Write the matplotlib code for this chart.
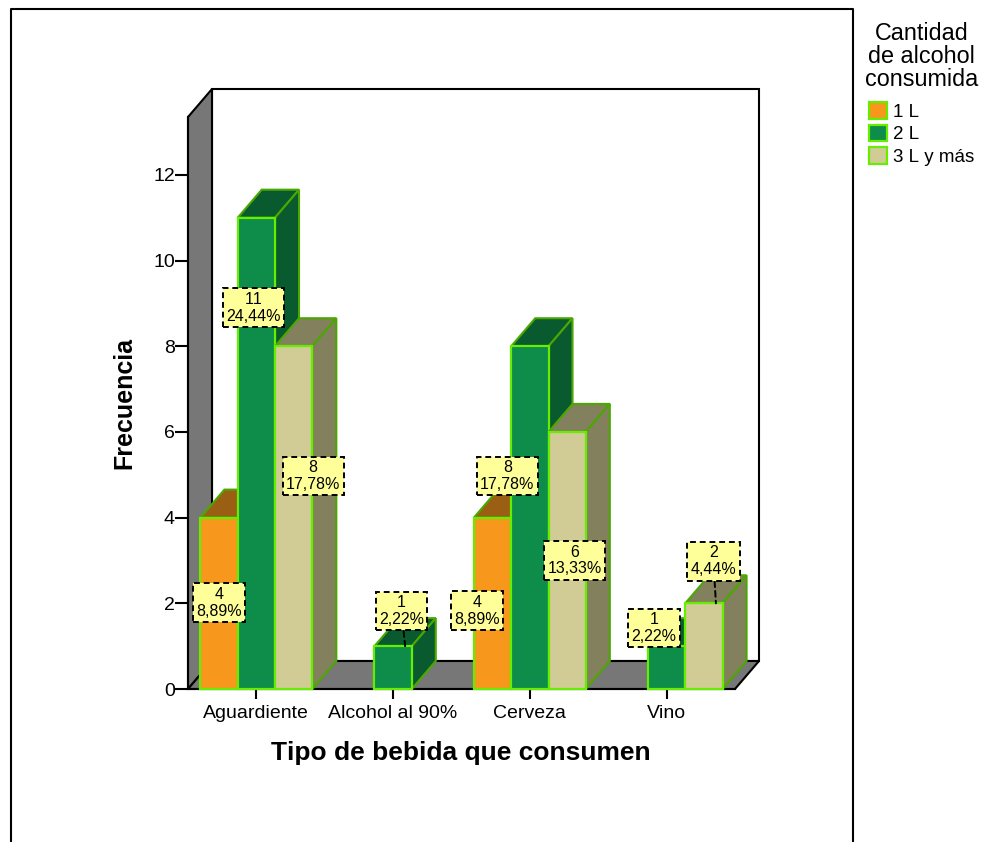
#! /usr/bin/env python3
import matplotlib
matplotlib.use('Agg')
import matplotlib.pyplot as plt
from matplotlib.lines import Line2D
from matplotlib.patches import Patch, Polygon
import numpy as np

plt.rcParams['font.family'] = ['Liberation Sans', 'DejaVu Sans']
plt.rcParams['text.kerning_factor'] = 6

categories = ['Aguardiente', 'Alcohol al 90%', 'Cerveza', 'Vino']
litros_1 = [4, 0, 4, 0]
litros_2 = [11, 1, 8, 1]
litros_3 = [8, 0, 6, 2]
series_names = ['1 L', '2 L', '3 L y más']
total = 45
y_ticks = [0, 2, 4, 6, 8, 10, 12]

w = 981
h = 842

# plot box in pixels, measured from the top left
left = 188
right = 735
bottom = 689
top = 117
y_max = 13.35
depth_x = 24
depth_y = 28

front = ['#F7981D', '#0E8C4A', '#D1CB96']
shade = ['#9B5F13', '#0A5A2F', '#83805D']
edge = '#66EE00'
edge_dark = '#4BA800'
wall = '#777777'

# box centre relative to the bar top, in pixels (x right, y up)
label_offsets = {
    (0, 0): (-12, -85), (0, 1): (-15, -90), (0, 2): (7.5, -130),
    (1, 1): (-3.5, 35),
    (2, 0): (-27.5, -93), (2, 1): (-34.5, -130), (2, 2): (-4.5, -128.5),
    (3, 1): (-24.5, 18), (3, 2): (-2.5, 42),
}
leaders = [(1, 1), (3, 2)]

fig = plt.figure(figsize=(w / 100, h / 100), dpi=100, facecolor='white')
ax = fig.add_axes([left / w, 1 - bottom / h, (right - left) / w, (bottom - top) / h])
ax.set_xlim(0, len(categories))
ax.set_ylim(0, y_max)
ax.patch.set_visible(False)

dx = depth_x / (right - left) * len(categories)
dy = depth_y / (bottom - top) * y_max
bar_w = 37.3 / (right - left) * len(categories)
x_max = len(categories)


def add_poly(pts, fc, ec, lw, z):
    ax.add_patch(Polygon(pts, closed=True, facecolor=fc, edgecolor=ec, linewidth=lw,
                         zorder=z, clip_on=False, joinstyle='miter'))


# back wall, side wall and floor
add_poly([(dx, dy), (x_max + dx, dy), (x_max + dx, y_max + dy), (dx, y_max + dy)], 'white', 'black', 1.5, 1)
add_poly([(0, 0), (dx, dy), (dx, y_max + dy), (0, y_max)], wall, 'black', 1.5, 1.1)
add_poly([(0, 0), (x_max, 0), (x_max + dx, dy), (dx, dy)], wall, 'black', 1.5, 1.2)

z = 3
x = np.arange(len(categories)) + 0.5
for s, values in enumerate([litros_1, litros_2, litros_3]):
    for c, v in enumerate(values):
        if v == 0:
            continue
        x0 = x[c] + (s - 1.5) * bar_w
        x1 = x0 + bar_w
        add_poly([(x0, v), (x1, v), (x1 + dx, v + dy), (x0 + dx, v + dy)], shade[s], edge_dark, 1.5, z)
        add_poly([(x1, 0), (x1 + dx, dy), (x1 + dx, v + dy), (x1, v)], shade[s], edge_dark, 1.5, z)
        ax.bar(x0 + bar_w / 2, v, width=bar_w, color=front[s], edgecolor=edge, linewidth=1.6,
               zorder=z + 0.5, clip_on=False)
        z += 1

# value boxes go on top of every bar
for s, values in enumerate([litros_1, litros_2, litros_3]):
    for c, v in enumerate(values):
        if v == 0:
            continue
        pct = f'{v / total * 100:.2f}%'.replace('.', ',')
        props = None
        if (c, s) in leaders:
            props = dict(arrowstyle='-', linestyle=(0, (3, 2)), linewidth=1.4, color='black',
                         shrinkA=0, shrinkB=0)
        ax.annotate(f'{v}\n{pct}', xy=(x[c] + (s - 1) * bar_w + dx / 2, v),
                    xytext=label_offsets[(c, s)], textcoords='offset pixels',
                    ha='center', va='center', fontsize=11.5, linespacing=1.15, zorder=50,
                    annotation_clip=False, arrowprops=props,
                    bbox=dict(boxstyle='square,pad=0.21', facecolor='#FFFF99', edgecolor='black',
                              linewidth=1.4, linestyle=(0, (3, 2))))

for name in ['top', 'right']:
    ax.spines[name].set_visible(False)
for name in ['left', 'bottom']:
    ax.spines[name].set_linewidth(1.5)
    ax.spines[name].set_zorder(2)
ax.set_xticks(x, categories)
ax.set_yticks(y_ticks)
ax.tick_params(axis='x', length=7.5, width=1.5, labelsize=14, pad=4)
ax.tick_params(axis='y', length=9.5, width=1.5, labelsize=14, pad=0)

fig.text(461 / w, 1 - 753 / h, 'Tipo de bebida que consumen', fontsize=19, fontweight='bold',
         ha='center', va='center')
fig.text(124 / w, 1 - 403 / h, 'Frecuencia', fontsize=18, fontweight='bold', rotation=90,
         ha='center', va='center')

# outer frame runs off the bottom of the figure
fig.add_artist(Line2D([10.5 / w, 10.5 / w, 853 / w, 853 / w], [0, 1 - 9 / h, 1 - 9 / h, 0],
                      color='black', linewidth=1.5))

handles = [Patch(facecolor=front[i], edgecolor=edge, linewidth=1.6) for i in range(3)]
leg = fig.legend(handles, series_names, title='Cantidad\nde alcohol\nconsumida', frameon=False,
                 loc='upper left', bbox_to_anchor=(865 / w, 1 - 22 / h), fontsize=13.5,
                 title_fontsize=16.8, handlelength=0.96, handleheight=1.0, handletextpad=0.32,
                 labelspacing=0.2, borderpad=0, borderaxespad=0, alignment='center')
leg.get_title().set_multialignment('center')
leg.get_title().set_linespacing(1.0)
# extra gap between the title and the first entry
leg._legend_box.sep = 8

fig.savefig('out.png', dpi=100)
